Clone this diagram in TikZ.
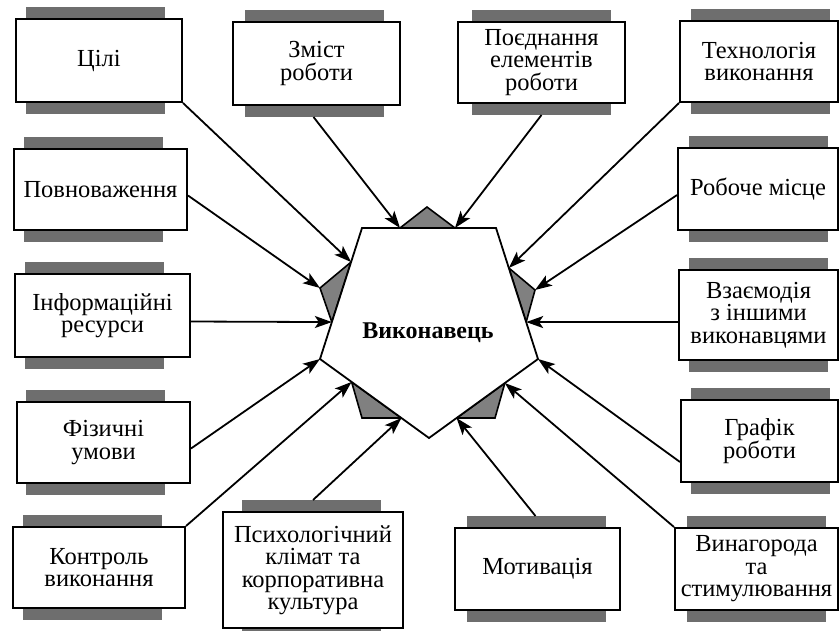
\documentclass[tikz,border=0pt]{standalone}
\usepackage{fontspec}
\setmainfont{Liberation Serif}
\usetikzlibrary{arrows.meta,calc,backgrounds}
\newcommand\lblfont{\fontsize{24.5}{22.5}\selectfont}
\newcommand\ctrfont{\fontsize{24}{26}\selectfont\bfseries}
\begin{document}
\begin{tikzpicture}[x=1pt,y=-1pt,
  box/.style={draw=black, line width=2pt, fill=white, inner sep=0pt, align=center, font=\lblfont},
  barfill/.style={fill=black!57},
  tri/.style={fill=black!50, draw=black, line width=1.6pt, line join=miter},
  link/.style={line width=1.8pt, -{Stealth[length=17pt,width=12pt,inset=4pt]}},
  penta/.style={draw=black, line width=1.8pt, fill=white, line join=miter}]
\useasboundingbox (0,0) rectangle (840,630);

% factor boxes
\node[box, minimum width=166pt, minimum height=83pt]  (tsili)   at (99,60.5)    {Цілі};
\node[box, minimum width=173pt, minimum height=81pt]  (povn)    at (100.5,189.5) {Повноваження};
\node[box, minimum width=175pt, minimum height=83pt]  (info)    at (102.5,315.5) {Інформаційні\\ресурси};
\node[box, minimum width=173pt, minimum height=81pt]  (fiz)     at (103.5,442.5) {Фізичні\\умови};
\node[box, minimum width=172pt, minimum height=81pt]  (kontrol) at (99,567.5)   {Контроль\\виконання};
\node[box, minimum width=180pt, minimum height=116pt] (psych)   at (313,570)    {Психологічний\\клімат та\\корпоративна\\культура};
\node[box, minimum width=165pt, minimum height=82pt]  (motyv)   at (537.5,569)  {Мотивація};
\node[box, minimum width=163pt, minimum height=82pt]  (vynag)   at (756.5,569)  {Винагорода\\та\\стимулювання};
\node[box, minimum width=157pt, minimum height=82pt]  (grafik)  at (759.5,441)  {Графік\\роботи};
\node[box, minimum width=159pt, minimum height=90pt]  (vzaiem)  at (758.5,315)  {Взаємодія\\з іншими\\виконавцями};
\node[box, minimum width=160pt, minimum height=82pt]  (robmis)  at (758,189)    {Робоче місце};
\node[box, minimum width=158pt, minimum height=81pt]  (tekhn)   at (759,61.5)   {Технологія\\виконання};
\node[box, minimum width=167pt, minimum height=83pt]  (zmist)   at (316.5,63.5) {Зміст\\роботи};
\node[box, minimum width=167pt, minimum height=81pt]  (poied)   at (541.5,62.5) {Поєднання\\елементів\\роботи};

% grey bars behind each box
\begin{pgfonlayer}{background}
\foreach \n/\o in {tsili/11, povn/11, info/11, fiz/10, kontrol/11, psych/20,
                   motyv/13, vynag/13, grafik/11, vzaiem/11, robmis/12,
                   tekhn/12, zmist/13, poied/15}
  \fill[barfill] ([xshift=\o pt, yshift=11pt]\n.north west)
    rectangle ([xshift=\o pt+139pt, yshift=-11pt]\n.south west);
\end{pgfonlayer}

% pentagon corners
\coordinate (p1) at (362,228);
\coordinate (p2) at (496,228);
\coordinate (p3) at (538,359);
\coordinate (p4) at (429,438);
\coordinate (p5) at (320,359);

% points on the sides and triangle tips
\coordinate (t1) at (400,228);
\coordinate (t2) at (455,228);
\coordinate (ta) at (427,207);
\coordinate (l1) at ($(p1)!0.26!(p5)$);
\coordinate (l3) at ($(p1)!0.718!(p5)$);
\coordinate (la) at (320,288);
\coordinate (r1) at ($(p2)!0.305!(p3)$);
\coordinate (r3) at ($(p2)!0.718!(p3)$);
\coordinate (ra) at (535,290);
\coordinate (b1) at ($(p5)!0.29!(p4)$);
\coordinate (b3) at ($(p5)!0.747!(p4)$);
\coordinate (ba) at (362,418);
\coordinate (c1) at ($(p3)!0.304!(p4)$);
\coordinate (c3) at ($(p3)!0.747!(p4)$);
\coordinate (ca) at (495,418);

% grey triangles on the sides
\draw[tri] (t1) -- (ta) -- (t2) -- cycle;
\draw[tri] (l1) -- (la) -- (l3) -- cycle;
\draw[tri] (r1) -- (ra) -- (r3) -- cycle;
\draw[tri] (b1) -- (ba) -- (b3) -- cycle;
\draw[tri] (c1) -- (c3) -- (ca) -- cycle;

% central pentagon
\draw[penta] (p1) -- (p2) -- (p3) -- (p4) -- (p5) -- cycle;
\node[font=\ctrfont] (isp) at (428,333) {Виконавець};

% connectors
\draw[link] (tsili.south east) -- (l1);
\draw[link] ([yshift=-6pt]povn.east) -- (la);
\draw[link] ([yshift=-6pt]info.east) -- (l3);
\draw[link] ([yshift=-6pt]fiz.east) -- (p5);
\draw[link] (kontrol.north east) -- (b1);
\draw[link] ([yshift=11pt]psych.north) -- (b3);
\draw[link] ([xshift=-2pt,yshift=11pt]motyv.north) -- (c3);
\draw[link] (vynag.north west) -- (c1);
\draw[link] ([yshift=-21pt]grafik.west) -- (p3);
\draw[link] ([yshift=-7pt]vzaiem.west) -- (r3);
\draw[link] ([yshift=-6pt]robmis.west) -- (ra);
\draw[link] (tekhn.south west) -- (r1);
\draw[link] ([xshift=-3pt,yshift=-11pt]zmist.south) -- (t1);
\draw[link] ([yshift=-11pt]poied.south) -- (t2);
\end{tikzpicture}
\end{document}
